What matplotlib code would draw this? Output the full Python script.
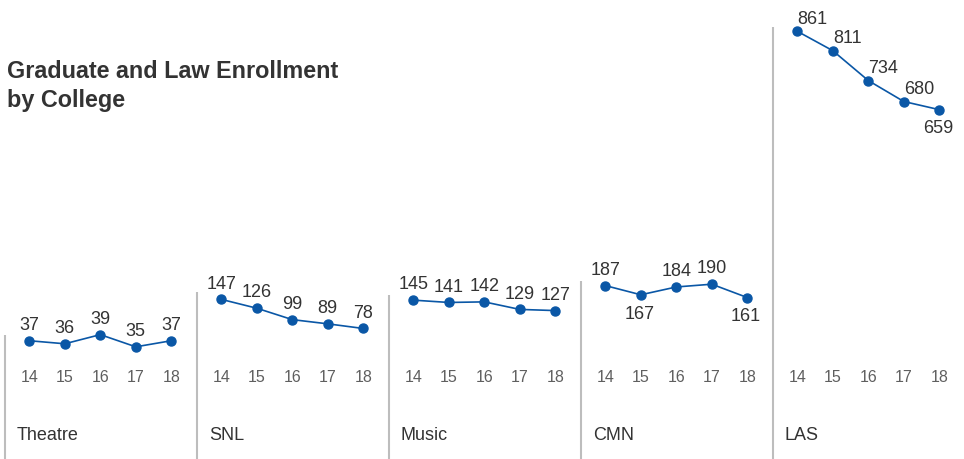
import matplotlib
matplotlib.use("Agg")
import matplotlib.pyplot as plt

colleges = ["Theatre", "SNL", "Music", "CMN", "LAS"]
years = [14, 15, 16, 17, 18]
year_labels = ["14", "15", "16", "17", "18"]
theatre = [37, 36, 39, 35, 37]
snl = [147, 126, 99, 89, 78]
music = [145, 141, 142, 129, 127]
cmn = [187, 167, 184, 190, 161]
las = [861, 811, 734, 680, 659]
series = [theatre, snl, music, cmn, las]

# each panel has its own vertical scale (bottom, top of the figure in data units)
ylims = [(-1.8, 149.1), (-231.3, 858.8), (-128.9, 664.2), (-190.0, 810.0), (-241.3, 944.2)]
# which value labels sit below their point
below = {3: [1, 4], 4: [4]}
# extra height (px) of the gray rule above the highest point
rule_pad = [0, 7, 5, 3, 4]

blue = "#0a57a6"
dark = "#333333"
rule = "#bdbdbd"

plt.rcParams["font.family"] = ["Liberation Sans", "DejaVu Sans"]

W, H = 964, 460
fig = plt.figure(figsize=(W / 100, H / 100), dpi=100)

panel_w = 192
first_off = 24.3
step = 35.5
xl = (years[0] - first_off / step, years[0] + (panel_w - first_off) / step)

for i, (name, vals) in enumerate(zip(colleges, series)):
    x0 = 5 + panel_w * i
    ax = fig.add_axes([x0 / W, 0, panel_w / W, 1])
    ax.set_xlim(*xl)
    ax.set_ylim(*ylims[i])
    ax.set_axis_off()

    lo, hi = ylims[i]
    per_px = (hi - lo) / H
    ax.vlines(xl[0], lo, max(vals) + rule_pad[i] * per_px, color=rule, lw=1.5, clip_on=False)

    ax.plot(years, vals, color=blue, lw=1.2, marker="o", ms=6.5, clip_on=False, zorder=3)

    for k, (yr, v) in enumerate(zip(years, vals)):
        if k in below.get(i, []):
            ax.annotate(str(v), (yr, v), xytext=(-1, -7), textcoords="offset points",
                        ha="center", va="top", fontsize=13, color=dark)
        elif name == "LAS":
            ax.annotate(str(v), (yr, v), xytext=(0, 6), textcoords="offset points",
                        ha="left", va="baseline", fontsize=13, color=dark)
        else:
            ax.annotate(str(v), (yr, v), xytext=(0, 8.5), textcoords="offset points",
                        ha="center", va="baseline", fontsize=13, color=dark)

    tr = ax.get_xaxis_transform()
    for yr, lab in zip(years, year_labels):
        ax.text(yr, 1 - 378 / H, lab, transform=tr, ha="center", va="center",
                fontsize=11.5, color="#5f5f5f")

    ax.text(12 / panel_w, 1 - 440.5 / H, name, transform=ax.transAxes, ha="left",
            va="baseline", fontsize=13, color=dark)

fig.text(7 / W, 1 - 77.5 / H, "Graduate and Law Enrollment", fontsize=16.8,
         fontweight="bold", color=dark, va="baseline")
fig.text(7 / W, 1 - 107.5 / H, "by College", fontsize=16.8,
         fontweight="bold", color=dark, va="baseline")

fig.savefig("out.png", dpi=100)
